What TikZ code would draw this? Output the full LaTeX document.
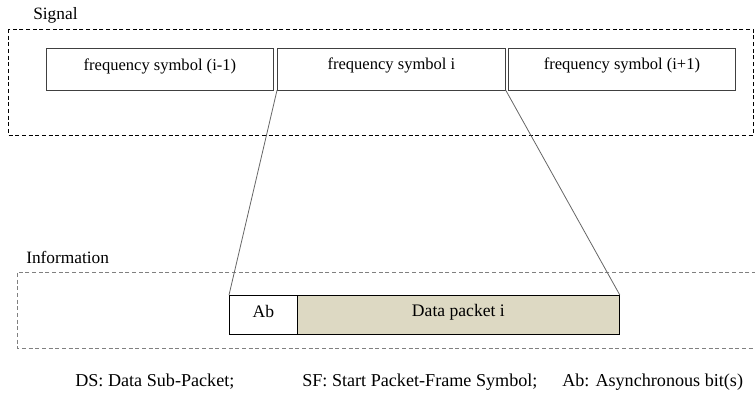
\documentclass[tikz,border=0pt]{standalone}
\usepackage{fontspec}
\setmainfont{Liberation Serif}
\definecolor{tan}{HTML}{DDD9C3}
\definecolor{lgray}{HTML}{404040}
\begin{document}
\begin{tikzpicture}[x=0.75pt,y=-0.75pt,
  sym/.style={draw=lgray,line width=0.6pt,minimum width=170.25pt,minimum height=31.5pt,anchor=north west,inner sep=0pt},
  lbl/.style={font=\fontsize{12.4}{14}\selectfont,inner sep=0pt,anchor=base west},
  grp/.style={lbl,font=\fontsize{13}{15}\selectfont},
  pkt/.style={lbl,font=\fontsize{13.2}{15}\selectfont,anchor=base},
  leg/.style={lbl,font=\fontsize{13.6}{16}\selectfont},
  zoomline/.style={draw=gray!80!black,line width=0.6pt}]
\useasboundingbox (0,0) rectangle (755,394);
% Signal group
\node[grp] (siglbl) at (33,19.5) {Signal};
\draw[dashed,line width=0.5pt,dash pattern=on 3pt off 2pt] (8,29) rectangle (753,135);
\node[sym,minimum width=170.25pt] (s1) at (46,48) {};
\node[lbl,anchor=base] at ([yshift=-16.8pt]s1.north) {frequency symbol (i-1)};
\node[sym,minimum width=171pt] (s2) at (277,47.5) {};
\node[lbl,anchor=base] at ([yshift=-16.8pt]s2.north) {frequency symbol i};
\node[sym,minimum width=170.25pt] (s3) at (508,47.5) {};
\node[lbl,anchor=base] at ([yshift=-16.8pt]s3.north) {frequency symbol (i+1)};
% Information group
\node[grp] (infolbl) at (26,263) {Information};
\draw[dashed,draw=gray,line width=0.5pt,dash pattern=on 3pt off 2pt] (756,272) -- (17,272) -- (17,348) -- (756,348);
\node[draw=black,line width=0.6pt,minimum width=51pt,minimum height=29.25pt,anchor=north west,inner sep=0pt] (ab) at (229,295) {};
\node[pkt] at ([yshift=-16.5pt]ab.north) {Ab};
\node[draw=black,line width=0.6pt,fill=tan,minimum width=241.5pt,minimum height=29.25pt,anchor=north west,inner sep=0pt] (dp) at (297,295) {};
\node[pkt] at ([yshift=-15.8pt]dp.north) {Data packet i};
% zoom lines
\draw[zoomline] (s2.south west) -- (ab.north west);
\draw[zoomline] (s2.south east) -- (dp.north east);
% legend
\node[leg] (l1) at (75,386) {DS: Data Sub-Packet;};
\node[leg] (l2) at (302,386) {SF: Start Packet-Frame Symbol;};
\node[leg] (l3) at (562,386) {Ab: Asynchronous bit(s)};
\end{tikzpicture}
\end{document}
